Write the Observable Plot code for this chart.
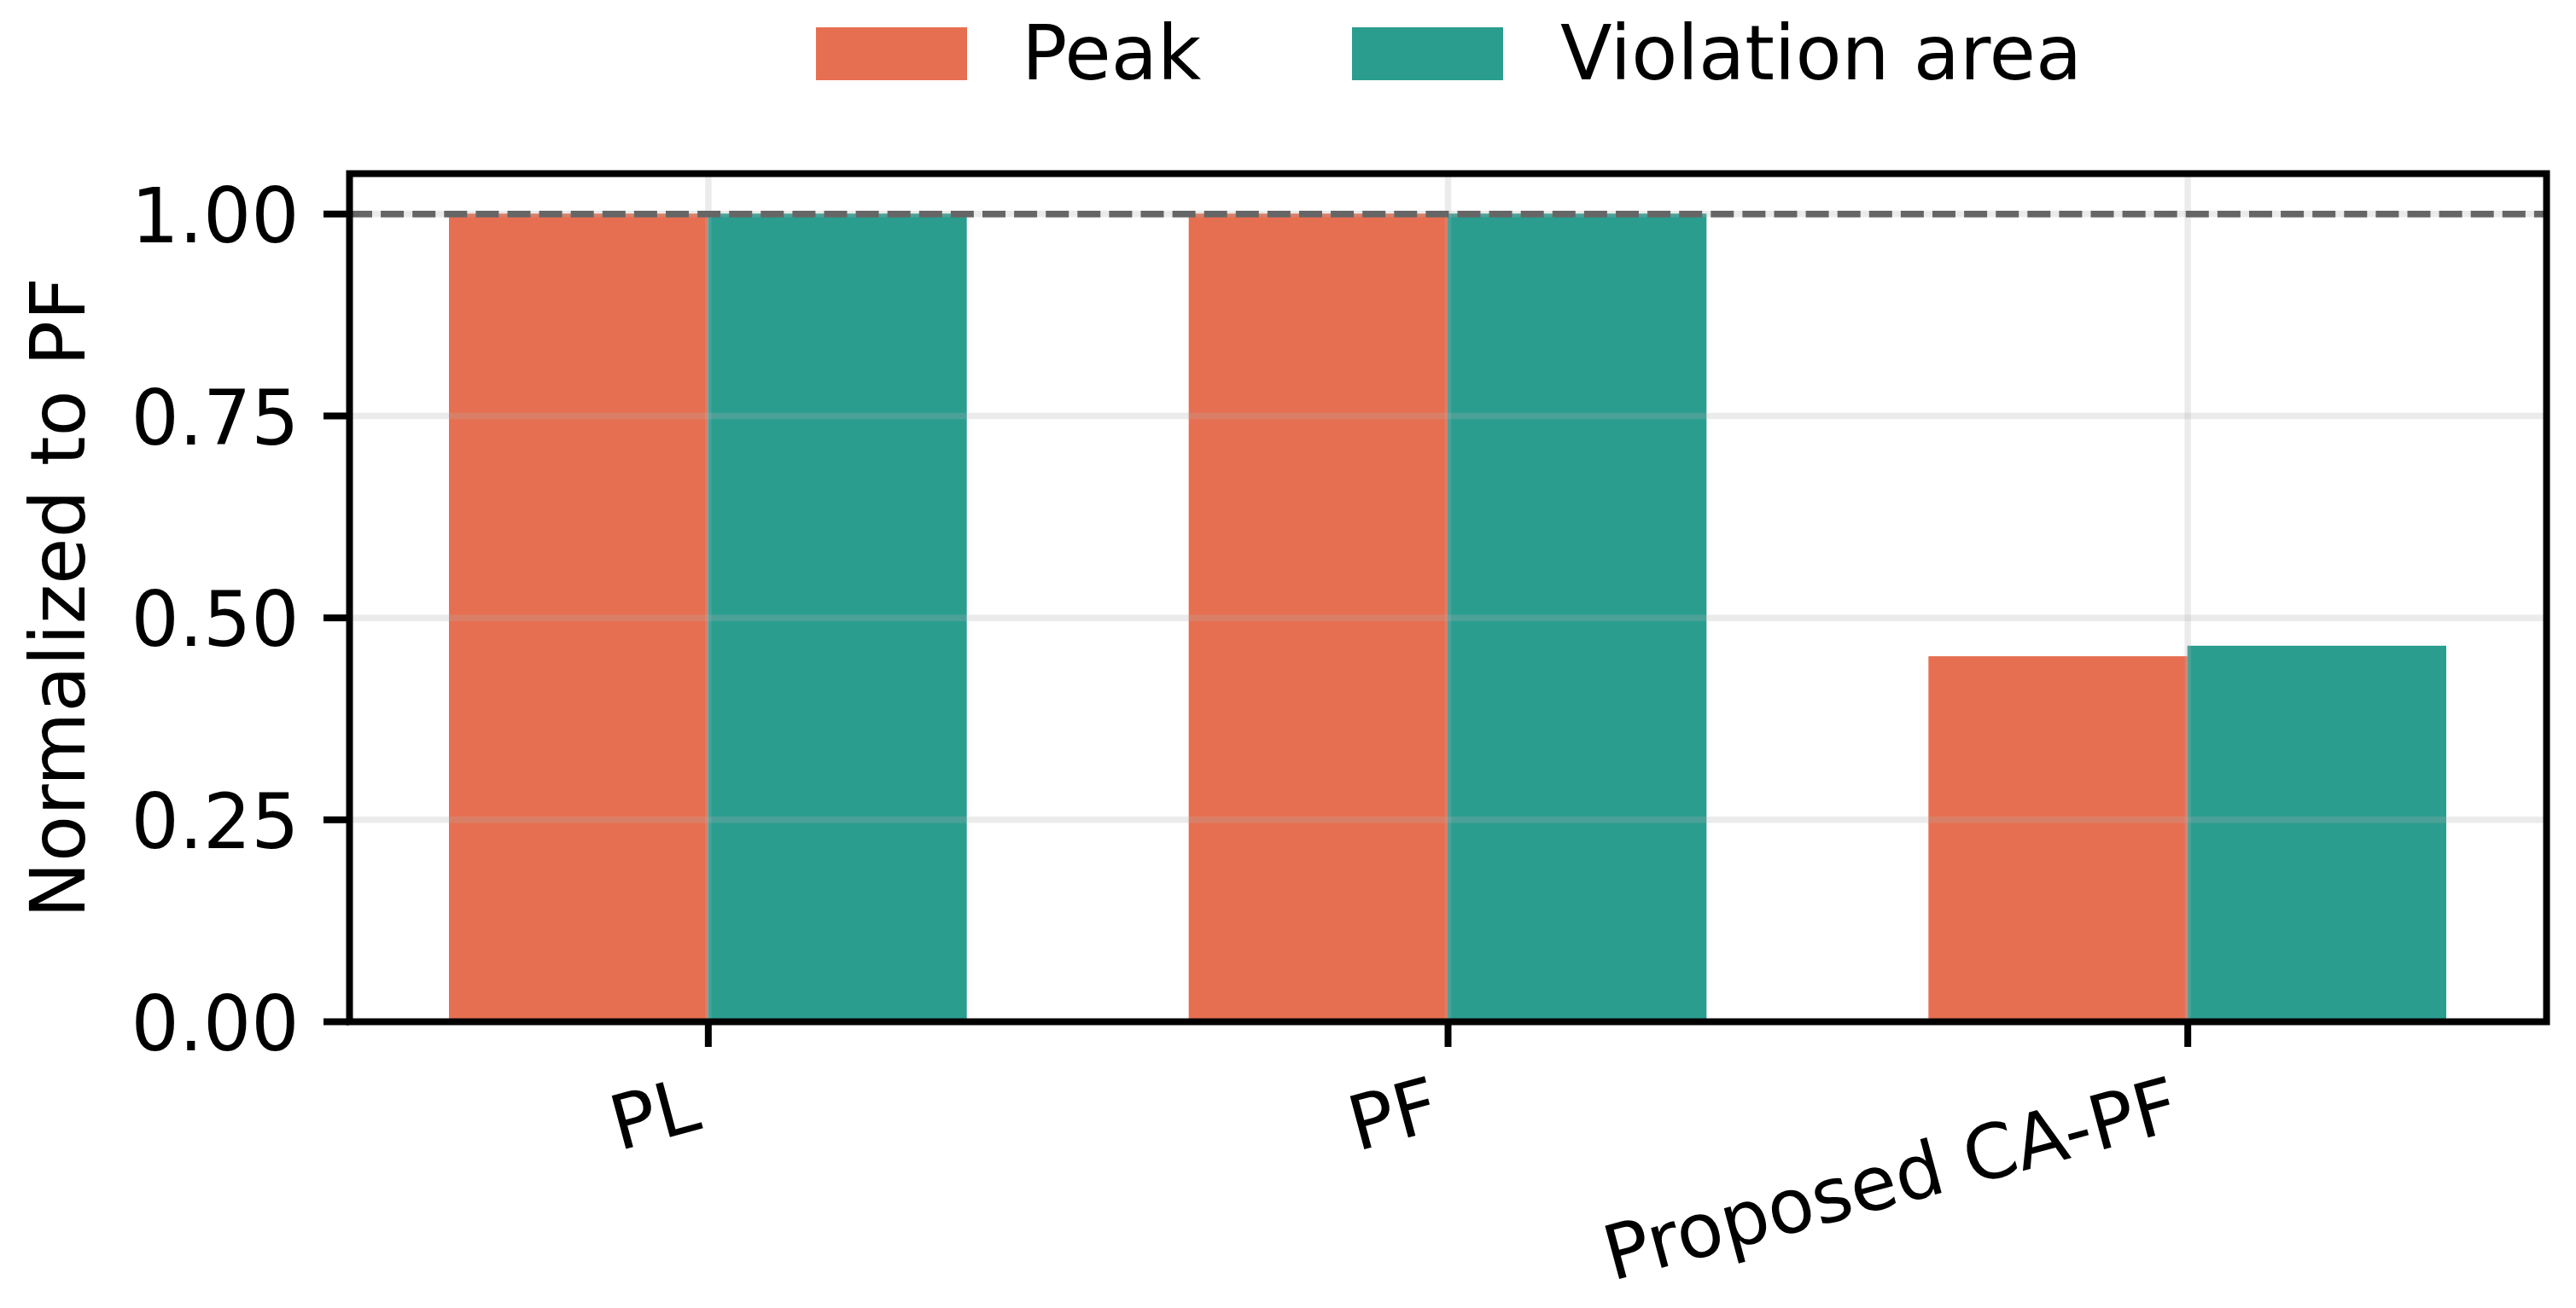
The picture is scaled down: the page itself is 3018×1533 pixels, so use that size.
<!DOCTYPE html>
<html>
<head>
<meta charset="utf-8">
<script src="https://cdn.jsdelivr.net/npm/d3@7"></script>
<script src="https://cdn.jsdelivr.net/npm/@observablehq/plot@0.6"></script>
<style>
  html, body { margin: 0; padding: 0; background: #fff; }
  body { width: 3018px; height: 1533px; overflow: hidden; font-family: "DejaVu Sans", sans-serif; }
  #legend { position: relative; width: 3018px; height: 130px; }
  .sw { position: absolute; top: 32px; width: 177px; height: 62px; }
  .lt { position: absolute; top: 11px; font-size: 88.5px; line-height: normal; white-space: nowrap; color: #000; }
  #chart svg { display: block; }
</style>
</head>
<body>
<div id="legend"></div>
<div id="chart"></div>
<script>
// ---- data ----
const categories = ["PL", "PF", "Proposed CA-PF"];
const series = ["Peak", "Violation area"];
const peakValues = [1.0, 1.0, 0.452];
const violationValues = [1.0, 1.0, 0.465];
const yTicks = [0, 0.25, 0.5, 0.75, 1.0];
const yTickLabels = ["0.00", "0.25", "0.50", "0.75", "1.00"];
const referenceLevel = [1.0];
const yLabel = "Normalized to PF";
const seriesColors = ["#e76f51", "#2a9d8f"];

// ---- table ----
const barWidth = 0.35;
const rows = [];
categories.forEach((c, i) => {
  rows.push({cat: c, idx: i, series: series[0], value: peakValues[i], x1: i - barWidth, x2: i});
  rows.push({cat: c, idx: i, series: series[1], value: violationValues[i], x1: i, x2: i + barWidth});
});
const catIdx = categories.map((c, i) => ({cat: c, idx: i}));

// ---- legend (HTML above the svg) ----
const legend = document.getElementById("legend");
const swLeft = [956, 1584];
const txLeft = [1197, 1828];
series.forEach((s, i) => {
  const sw = document.createElement("div");
  sw.className = "sw";
  sw.style.left = swLeft[i] + "px";
  sw.style.background = seriesColors[i];
  legend.appendChild(sw);
  const t = document.createElement("div");
  t.className = "lt";
  t.style.left = txLeft[i] + "px";
  t.textContent = s;
  legend.appendChild(t);
});

// ---- chart ----
const fs = 88.5;
const chart = Plot.plot({
  width: 3018,
  height: 1403,
  marginTop: 73,
  marginBottom: 336,
  marginLeft: 409,
  marginRight: 35,
  style: {fontFamily: "DejaVu Sans, sans-serif", fontSize: fs + "px", color: "black", background: "white", overflow: "visible"},
  x: {type: "linear", domain: [-0.485, 2.485], label: null},
  y: {domain: [0, 1.05], label: null},
  color: {domain: series, range: seriesColors},
  marks: [
    Plot.rect(rows, {x1: "x1", x2: "x2", y1: 0, y2: "value", fill: "series"}),
    Plot.gridY(yTicks, {stroke: "#b0b0b0", strokeOpacity: 0.25, strokeWidth: 7.5}),
    Plot.gridX(catIdx.map(d => d.idx), {stroke: "#b0b0b0", strokeOpacity: 0.25, strokeWidth: 7.5}),
    Plot.ruleY(referenceLevel, {stroke: "#666666", strokeWidth: 7.7, strokeDasharray: "27,10.1"}),
    Plot.frame({stroke: "black", strokeWidth: 8}),
    Plot.axisY({ticks: yTicks, tickSize: 30, fill: "none", stroke: "black", strokeWidth: 8, label: null}),
    Plot.axisY({ticks: yTicks, tickSize: 30, tickPadding: 29, stroke: "none", fill: "black",
      tickFormat: d => yTickLabels[yTicks.indexOf(d)], fontSize: fs, dy: 5, label: null}),
    Plot.axisX({ticks: catIdx.map(d => d.idx), tickSize: 30, fill: "none", stroke: "black", strokeWidth: 8, label: null}),
    Plot.text(catIdx, {x: "idx", text: "cat", frameAnchor: "bottom", dx: -22, dy: 64, rotate: -15,
      textAnchor: "end", lineAnchor: "top", fontSize: fs, fill: "black"}),
    Plot.text([yLabel], {frameAnchor: "left", text: d => d, rotate: -90, dx: -311,
      textAnchor: "middle", lineAnchor: "bottom", fontSize: fs, fill: "black"})
  ]
});
document.getElementById("chart").appendChild(chart);
</script>
</body>
</html>
